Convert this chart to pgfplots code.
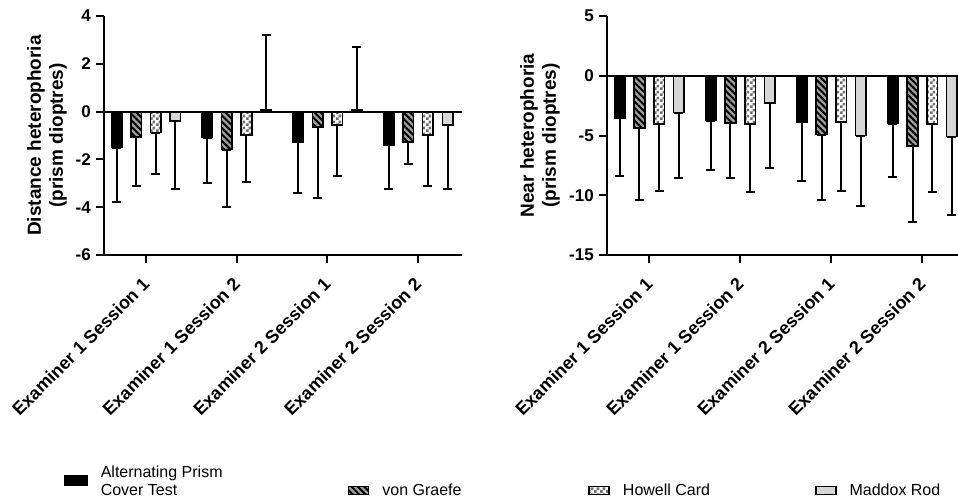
\documentclass[border=0pt]{standalone}
\usepackage{fontspec}
\setmainfont{Liberation Sans}
\usepackage{pgfplots}
\usepackage{pgfplotstable}
\pgfplotsset{compat=1.18}
\usetikzlibrary{patterns,patterns.meta}

\pgfdeclarepatternformonly{checks}{\pgfqpoint{0pt}{0pt}}{\pgfqpoint{6pt}{6pt}}{\pgfqpoint{6pt}{6pt}}{%
  \pgfpathrectangle{\pgfqpoint{0pt}{0pt}}{\pgfqpoint{3pt}{3pt}}%
  \pgfpathrectangle{\pgfqpoint{3pt}{3pt}}{\pgfqpoint{3pt}{3pt}}%
  \pgfusepath{fill}}

\definecolor{hatchgray}{HTML}{A0A0A0}
\definecolor{checkgray}{HTML}{707070}
\definecolor{maddox}{HTML}{D6D6D6}

% mean and one-sided SD (plus / minus) per method
\pgfplotstableread{
x  apct  apctp apctm vg    vgp vgm  hc    hcp hcm  mr    mrp  mrm
0 -1.51  0     2.29 -1.07  0   2.04 -0.88 0   1.73 -0.39 0    2.83
1 -1.09  0     1.91 -1.59  0   2.42 -0.99 0   1.94  0.07 3.15 0
2 -1.28  0     2.13 -0.66  0   2.96 -0.57 0   2.13  0.07 2.62 0
3 -1.39  0     1.83 -1.28  0   0.92 -0.99 0   2.12 -0.57 0    2.65
}\distance

\pgfplotstableread{
x  apct  apctp apctm vg    vgp vgm  hc    hcp hcm  mr    mrp  mrm
0 -3.54  0     4.84 -4.40  0   5.99 -4.04 0   5.63 -3.09 0    5.49
1 -3.76  0     4.10 -3.93  0   4.65 -4.04 0   5.71 -2.28 0    5.41
2 -3.87  0     4.96 -4.93  0   5.46 -3.87 0   5.80 -5.01 0    5.91
3 -4.01  0     4.49 -5.88  0   6.38 -4.04 0   5.71 -5.10 0    6.52
}\near

\pgfplotsset{
  hetero/.style={
    scale only axis,
    height=239pt,
    axis lines=left,
    axis line style={-, line width=2pt},
    every tick/.style={line width=2pt, black},
    major tick length=8pt,
    tick align=outside,
    xtick={0,1,2,3},
    xticklabels={Examiner 1 Session 1, Examiner 1 Session 2, Examiner 2 Session 1, Examiner 2 Session 2},
    xticklabel style={yshift=-18pt, rotate=45, anchor=east, inner sep=0pt, font=\bfseries\fontsize{18}{20}\selectfont},
    yticklabel style={font=\bfseries\fontsize{17}{20}\selectfont, inner sep=0pt, xshift=-5pt},
    /pgf/number format/assume math mode=true,
    ylabel style={align=center, font=\bfseries\fontsize{19}{22}\selectfont, at={(axis description cs:0,0.5)}, anchor=south, inner sep=0pt},
    error bars/error bar style={line width=2pt, black, solid},
    error bars/error mark options={line width=2pt, black, mark size=4.5pt, rotate=90},
  },
  barA/.style={ybar, bar width=0.115, fill=black, draw=black, line width=1.6pt},
  barB/.style={ybar, bar width=0.115, fill=hatchgray, draw=black, line width=1.6pt,
    postaction={pattern={Lines[angle=-45,distance=4.5pt,line width=2pt]}, pattern color=black}},
  barC/.style={ybar, bar width=0.115, fill=white, draw=black, line width=1.6pt,
    postaction={pattern=checks, pattern color=checkgray}},
  barD/.style={ybar, bar width=0.115, fill=maddox, draw=black, line width=1.6pt},
  errs/.style={error bars/y dir=both, error bars/y explicit},
  legA/.style={legend image code/.code={\draw[##1] (0pt,-8pt) rectangle (22pt,2pt);}},
  legB/.style={legend image code/.code={\draw[##1] (0pt,-17pt) rectangle (20pt,-9pt);}},
}

\begin{document}
\begin{tikzpicture}
\begin{axis}[hetero,
  width=358pt,
  xmin=-0.463, xmax=3.484,
  ymin=-6, ymax=4, ytick={-6,-4,-2,0,2,4},
  ylabel={Distance heterophoria\\(prism dioptres)},
  ylabel style={yshift=37pt},
  legend columns=4,
  legend style={at={(0,0)}, anchor=north west, xshift=-40pt, yshift=-208.7pt,
    draw=none, fill=none, inner sep=0pt, font=\fontsize{16}{18}\selectfont,
    cells={anchor=base west, inner sep=0pt},
    /tikz/every odd column/.append style={column sep=11pt},
    /tikz/every even column/.append style={column sep=0pt}},
]
\addplot[barA, errs, legA]
  table[x expr=\thisrow{x}-0.325, y=apct, y error plus=apctp, y error minus=apctm] {\distance};
\addlegendentry{\parbox[t]{245pt}{Alternating Prism\\Cover Test}}
\addplot[barB, errs, legB]
  table[x expr=\thisrow{x}-0.108, y=vg, y error plus=vgp, y error minus=vgm] {\distance};
\addlegendentry{\raisebox{-18pt}{\makebox[204pt][l]{von Graefe}}}
\addplot[barC, errs, legB]
  table[x expr=\thisrow{x}+0.108, y=hc, y error plus=hcp, y error minus=hcm] {\distance};
\addlegendentry{\raisebox{-18pt}{\makebox[190pt][l]{Howell Card}}}
\addplot[barD, errs, legB]
  table[x expr=\thisrow{x}+0.325, y=mr, y error plus=mrp, y error minus=mrm] {\distance};
\addlegendentry{\raisebox{-18pt}{Maddox Rod}}
\draw[line width=2pt] (axis cs:-0.463,0) -- (axis cs:3.484,0);
\end{axis}

\begin{axis}[hetero,
  at={(503pt,0pt)},
  width=351pt,
  xmin=-0.465, xmax=3.392,
  ymin=-15, ymax=5, ytick={-15,-10,-5,0,5},
  ylabel={Near heterophoria\\(prism dioptres)},
  ylabel style={yshift=47pt},
]
\addplot[barA, errs] table[x expr=\thisrow{x}-0.325, y=apct, y error plus=apctp, y error minus=apctm] {\near};
\addplot[barB, errs] table[x expr=\thisrow{x}-0.108, y=vg, y error plus=vgp, y error minus=vgm] {\near};
\addplot[barC, errs] table[x expr=\thisrow{x}+0.108, y=hc, y error plus=hcp, y error minus=hcm] {\near};
\addplot[barD, errs] table[x expr=\thisrow{x}+0.325, y=mr, y error plus=mrp, y error minus=mrm] {\near};
\draw[line width=2pt] (axis cs:-0.465,0) -- (axis cs:3.392,0);
\end{axis}

\pgfresetboundingbox
\path (-104pt,-243pt) rectangle ++(958pt,498pt);
\end{tikzpicture}
\end{document}
